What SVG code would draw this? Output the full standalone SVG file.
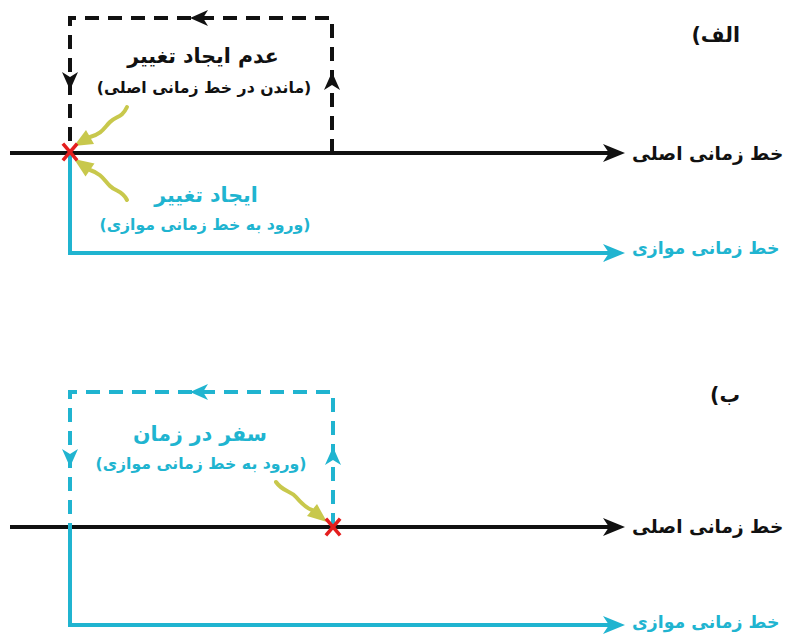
<svg xmlns="http://www.w3.org/2000/svg" width="786" height="635" viewBox="0 0 786 635">
  <style>
    .bk { stroke: #111; stroke-width: 4; fill: none; }
    .cy { stroke: #20b4d0; stroke-width: 4; fill: none; }
    .dash { stroke-dasharray: 14 9; }
    .hk { fill: #111; }
    .hc { fill: #20b4d0; }
    .yl { stroke: #c8c84c; stroke-width: 4; fill: none; stroke-linecap: round; }
    .yh { fill: #c8c84c; }
    .x { stroke: #e41e1e; stroke-width: 3.5; stroke-linecap: square; }
    text { font-family: "DejaVu Sans", "Noto Sans", sans-serif; font-weight: bold; direction: rtl; unicode-bidi: embed; }
    .t1 { font-size: 20.5px; }
    .t2 { font-size: 15.7px; }
    .lab { font-size: 18.5px; }
    .lab2 { font-size: 17.3px; }
    .kc { fill: #111; }
    .cc { fill: #20b4d0; }
  </style>
  <defs>
    <path id="hR" d="M-22,-9 L0,0 L-22,9 L-16,0 Z"/>
  </defs>

  <!-- Panel A -->
  <g id="connectors-a">
    <!-- main timeline -->
    <line class="bk" x1="10" y1="153" x2="610" y2="153"/>
    <use href="#hR" class="hk" x="625" y="153"/>
    <!-- loop back, staying on the main timeline -->
    <path class="bk dash" d="M332,153 V18 H70 V153"/>
    <path class="hk" d="M190,18 L208,10 L203,18 L208,26 Z"/>
    <path class="hk" d="M70,90 L62,72 L70,77 L78,72 Z"/>
    <path class="hk" d="M332,72 L324,90 L332,85 L340,90 Z"/>
    <!-- branch into the parallel timeline -->
    <path class="cy" d="M70,153 V253 H610"/>
    <use href="#hR" class="hc" x="625" y="253"/>
    <!-- pointers to the branch point -->
    <path class="yl" d="M127,107 C122,118 116,116 110,122 S102,134 90,137"/>
    <polygon class="yh" points="74,146 86,130 94,144"/>
    <path class="yl" d="M127,200 C122,190 116,192 110,186 S102,174 90,170"/>
    <polygon class="yh" points="74,159 94.5,163.4 85.5,176.6"/>
  </g>
  <g id="branch-point-a">
    <line class="x" x1="64" y1="145" x2="76" y2="159"/>
    <line class="x" x1="76" y1="145" x2="64" y2="159"/>
  </g>
  <g id="label-a">
    <text class="t1 kc" x="740" y="42" text-anchor="start">الف)</text>
  </g>
  <g id="no-change">
    <text class="t1 kc" x="203" y="63" text-anchor="middle">عدم ایجاد تغییر</text>
    <text class="t2 kc" x="204" y="93" text-anchor="middle">(ماندن در خط زمانی اصلی)</text>
  </g>
  <g id="change">
    <text class="t1 cc" x="206" y="202" text-anchor="middle">ایجاد تغییر</text>
    <text class="t2 cc" x="205" y="230" text-anchor="middle">(ورود به خط زمانی موازی)</text>
  </g>
  <g id="main-line-a">
    <text class="lab kc" x="632" y="160" text-anchor="end">خط زمانی اصلی</text>
  </g>
  <g id="parallel-line-a">
    <text class="lab2 cc" x="632" y="254" text-anchor="end">خط زمانی موازی</text>
  </g>

  <!-- Panel B -->
  <g id="connectors-b">
    <line class="bk" x1="10" y1="527" x2="610" y2="527"/>
    <use href="#hR" class="hk" x="625" y="527"/>
    <path class="cy dash" d="M333,527 V392 H70 V527"/>
    <path class="hc" d="M190,392 L208,384 L203,392 L208,400 Z"/>
    <path class="hc" d="M70,467 L62,449 L70,454 L78,449 Z"/>
    <path class="hc" d="M333,447 L325,465 L333,460 L341,465 Z"/>
    <path class="cy" d="M70,527 V625 H610"/>
    <use href="#hR" class="hc" x="625" y="625"/>
    <path class="yl" d="M276,482 C283,492 290,490 296,497 S306,508 312,510"/>
    <polygon class="yh" points="327,522 307,516 317,504"/>
  </g>
  <g id="branch-point-b">
    <line class="x" x1="327" y1="520" x2="339" y2="534"/>
    <line class="x" x1="339" y1="520" x2="327" y2="534"/>
  </g>
  <g id="label-b">
    <text class="t1 kc" x="740" y="402" text-anchor="start">ب)</text>
  </g>
  <g id="time-travel">
    <text class="t1 cc" x="200" y="441" text-anchor="middle">سفر در زمان</text>
    <text class="t2 cc" x="201" y="469" text-anchor="middle">(ورود به خط زمانی موازی)</text>
  </g>
  <g id="main-line-b">
    <text class="lab kc" x="632" y="533" text-anchor="end">خط زمانی اصلی</text>
  </g>
  <g id="parallel-line-b">
    <text class="lab2 cc" x="632" y="628" text-anchor="end">خط زمانی موازی</text>
  </g>
</svg>
